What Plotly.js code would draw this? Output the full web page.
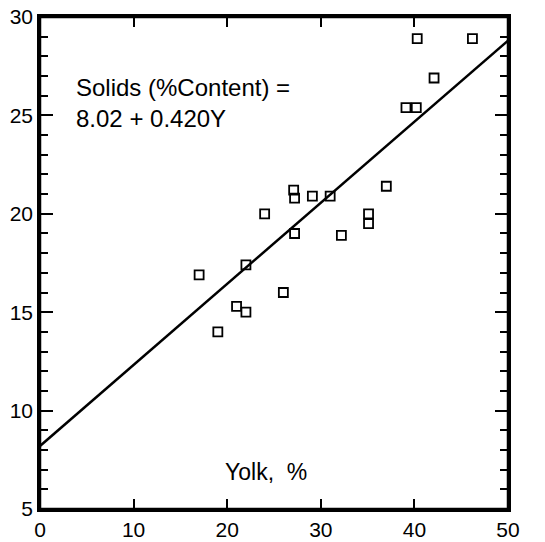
<!DOCTYPE html>
<html>
<head>
<meta charset="utf-8">
<script src="https://cdn.plot.ly/plotly-3.0.1.min.js"></script>
<style>html,body{margin:0;padding:0;background:#fff;}#chart{width:545px;height:542px;}</style>
</head>
<body>
<div id="chart"></div>
<script>
const yolk = [40.3, 46.2, 42.1, 39.1, 40.2, 27.1, 27.2, 29.1, 31.0, 37.0, 24.0, 35.1, 35.1, 27.2, 32.2, 22.0, 17.0, 26.0, 21.0, 22.0, 19.0];
const solids = [28.9, 28.9, 26.9, 25.4, 25.4, 21.2, 20.8, 20.9, 20.9, 21.4, 20.0, 20.0, 19.5, 19.0, 18.9, 17.4, 16.9, 16.0, 15.3, 15.0, 14.0];
const fitX = [0, 50];
const fitY = [8.2, 28.8];
const xTickStep = 10;
const yTickStep = 5;
const yMinorStep = 1;

const font = 'Liberation Sans Narrow, Liberation Sans, Arial, sans-serif';

const traces = [
  {x: fitX, y: fitY, mode: 'lines', line: {color: '#000', width: 2.5}, hoverinfo: 'skip'},
  {x: yolk, y: solids, mode: 'markers',
   marker: {symbol: 'square-open', size: 9, color: '#000', line: {color: '#000', width: 1.8}}}
];

const layout = {
  width: 545, height: 542,
  margin: {l: 40, r: 37, t: 17, b: 33},
  paper_bgcolor: '#fff', plot_bgcolor: 'rgba(0,0,0,0)',
  showlegend: false,
  font: {family: font, color: '#000', size: 20},
  xaxis: {
    range: [0, 50], dtick: xTickStep,
    ticks: 'inside', ticklen: 10, tickwidth: 2, tickcolor: '#000',
    showline: true, linecolor: '#000', linewidth: 2.5, mirror: 'allticks',
    showgrid: false, zeroline: false,
    tickfont: {family: font, size: 21, color: '#000'}
  },
  yaxis: {
    range: [5, 30], dtick: yTickStep,
    ticks: 'inside', ticklen: 13, tickwidth: 2, tickcolor: '#000',
    minor: {dtick: yMinorStep, ticks: 'inside', ticklen: 8, tickwidth: 1.5, tickcolor: '#000'},
    showline: true, linecolor: '#000', linewidth: 2.5, mirror: 'allticks',
    showgrid: false, zeroline: false,
    tickfont: {family: font, size: 21, color: '#000'}
  },
  shapes: [
    {type: 'rect', xref: 'paper', yref: 'paper', x0: 0, x1: 1, y0: 0, y1: 1,
     line: {color: '#000', width: 2.5}, layer: 'above'}
  ],
  annotations: [
    {text: 'Solids (%Content) =<br>8.02 + 0.420Y', x: 0.072, y: 0.825, xref: 'paper', yref: 'paper',
     xanchor: 'left', yanchor: 'middle', align: 'left', showarrow: false,
     font: {family: font, size: 24, color: '#000'}},
    {text: 'Yolk,  %', x: 0.483, y: 0.075, xref: 'paper', yref: 'paper',
     xanchor: 'center', yanchor: 'middle', showarrow: false,
     font: {family: font, size: 23, color: '#000'}}
  ]
};

Plotly.newPlot('chart', traces, layout, {displayModeBar: false});
</script>
</body>
</html>
